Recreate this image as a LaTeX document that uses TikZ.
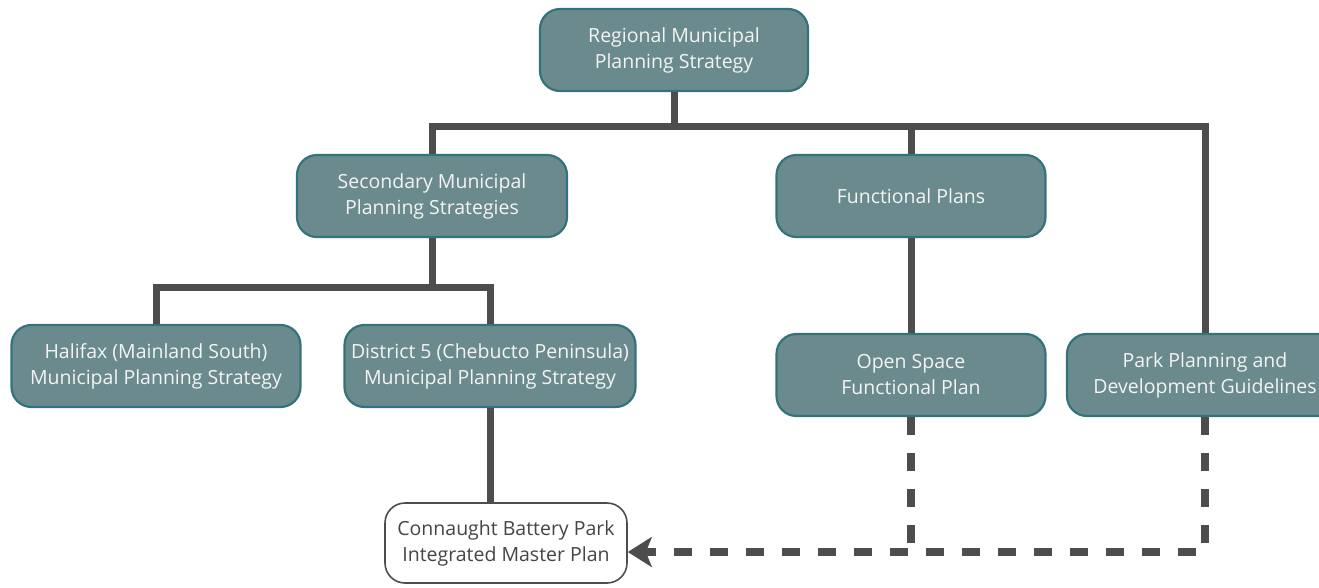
\documentclass[tikz,border=0pt]{standalone}
\usepackage{fontspec}
\setmainfont{Open Sans}
\usepackage{tikz}
\usetikzlibrary{arrows.meta, positioning}
\definecolor{planfill}{HTML}{6A8A8E}
\definecolor{planedge}{HTML}{33737A}
\definecolor{linkgray}{HTML}{4D4D4D}
\definecolor{plantext}{HTML}{F4F4F4}

\begin{document}
\begin{tikzpicture}[
      x=1pt, y=-1pt,
      >=Stealth,
      plan/.style={rectangle, draw=planedge, line width=2.2pt, fill=planfill, rounded corners=20pt, align=center, text=plantext, font=\fontsize{19.5}{26}\selectfont, minimum width=268pt, minimum height=82pt, inner sep=2pt},
      master/.style={plan, fill=white, draw=linkgray, line width=1.6pt, text=linkgray!90!black, minimum width=242pt, minimum height=80pt},
      link/.style={draw=linkgray, line width=7pt},
      dashlink/.style={draw=linkgray, line width=7.5pt, dash pattern=on 18pt off 18pt}
  ]
      \useasboundingbox (0,0) rectangle (1319,587);
      \clip (0,0) rectangle (1319,587);

      % Junctions of the tree
      \coordinate (topbus) at (674,126);
      \coordinate (midbus) at (432,287);

      % Boxes
      \node[plan] (rmps) at (674,50) {Regional Municipal\\Planning Strategy};
      \node[plan, minimum width=270pt] (smps) at (432,196) {Secondary Municipal\\Planning Strategies};
      \node[plan, minimum width=269pt] (fplans) at (911,196) {Functional Plans};
      \node[plan, minimum width=289pt] (halifax) at (156,366) {Halifax (Mainland South)\\Municipal Planning Strategy};
      \node[plan, minimum width=291pt] (district) at (490,366) {District 5 (Chebucto Peninsula)\\Municipal Planning Strategy};
      \node[plan, minimum width=269pt] (openspace) at (911,375) {Open Space\\Functional Plan};
      \node[plan, minimum width=276pt] (parkguide) at (1205,375) {Park Planning and\\Development Guidelines};
      \node[master] (cbpark) at (506,543) {Connaught Battery Park\\Integrated Master Plan};

      \coordinate (arrowend) at ([yshift=-9pt]cbpark.east);

      % Solid hierarchy
      \draw[link] (rmps.south) -- (topbus);
      \draw[link] (smps.north) |- (topbus) -| (parkguide.north);
      \draw[link] (fplans.north) -- (fplans.north |- topbus);
      \draw[link] (fplans.south) -- (openspace.north);
      \draw[link] (smps.south) -- (midbus);
      \draw[link] (halifax.north) |- (midbus) -| (district.north);
      \draw[link] (district.south) -- (district.south |- cbpark.north);

      % Dashed inputs to the master plan
      \draw[dashlink] (openspace.south) -- (openspace.south |- arrowend);
      \draw[dashlink, -{Stealth[length=24pt, width=30pt, inset=6pt]}] (parkguide.south) |- (arrowend);

  \end{tikzpicture}
\end{document}
